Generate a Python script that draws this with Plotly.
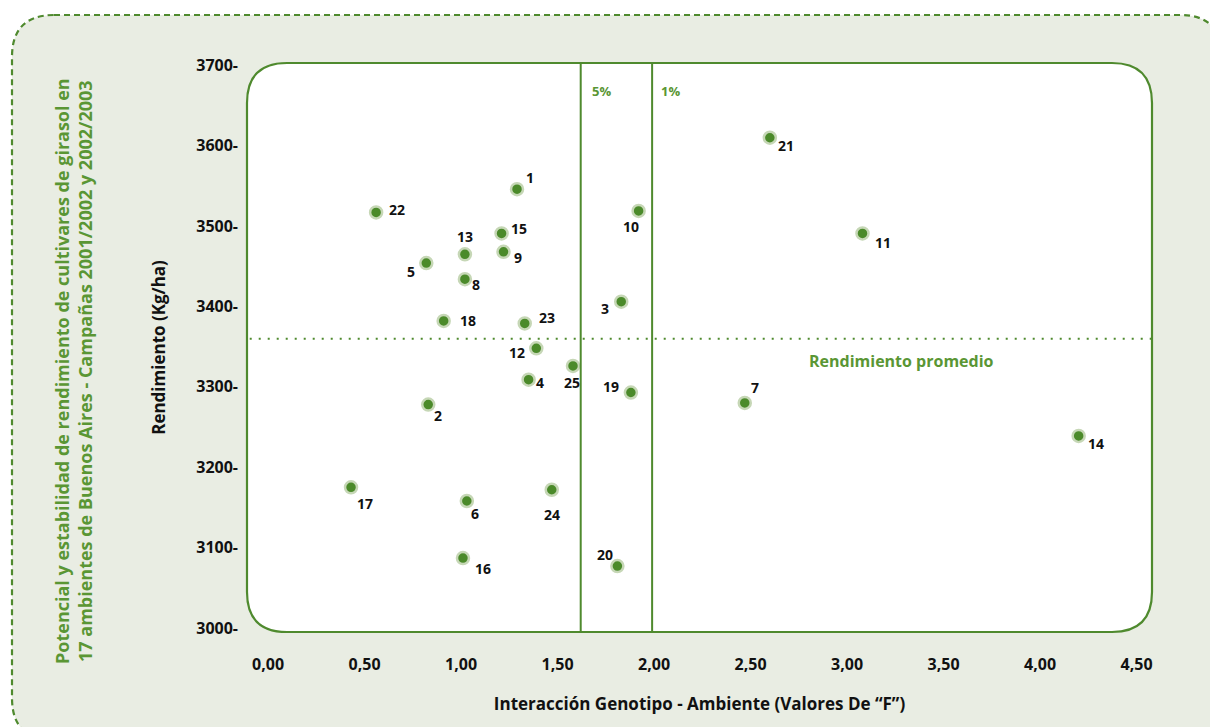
import plotly.graph_objects as go

# ---------------- data ----------------
genotipos = ["1", "2", "3", "4", "5", "6", "7", "8", "9", "10", "11", "12", "13",
             "14", "15", "16", "17", "18", "19", "20", "21", "22", "23", "24", "25"]
interaccion_F = [1.29, 0.83, 1.83, 1.35, 0.82, 1.03, 2.47, 1.02, 1.22, 1.92, 3.08, 1.39, 1.02,
                 4.20, 1.21, 1.01, 0.43, 0.91, 1.88, 1.81, 2.60, 0.56, 1.33, 1.47, 1.58]
rendimiento = [3546, 3278, 3406, 3309, 3454, 3158, 3280, 3434, 3468, 3519, 3491, 3348, 3465,
               3239, 3491, 3087, 3175, 3382, 3293, 3077, 3610, 3517, 3379, 3172, 3326]
rendimiento_promedio = 3360
f_5pct = 1.62
f_1pct = 1.99
x_ticks = [0, 0.5, 1.0, 1.5, 2.0, 2.5, 3.0, 3.5, 4.0, 4.5]
x_ticklabels = ["0,00", "0,50", "1,00", "1,50", "2,00", "2,50", "3,00", "3,50", "4,00", "4,50"]
y_ticks = [3000, 3100, 3200, 3300, 3400, 3500, 3600, 3700]
y_ticklabels = ["3000-", "3100-", "3200-", "3300-", "3400-", "3500-", "3600-", "3700-"]

# ---------------- style ----------------
W, H = 1210, 727
# plot box in page pixels: x 247..1152, y 63..632
ML, MT = 247, 63
MR, MB = W - 1152, H - 632
PW, PH = W - ML - MR, H - MT - MB
GREEN = "#4f8a2e"
TGREEN = "#5a9634"
BG = "#e9ede3"
FONT = "Open Sans"

# label offsets in pixels (dx right, dy down)
label_offsets = {
    "1": (13, -12), "22": (21, -3), "15": (17, -5), "13": (0, -18), "9": (14, 6),
    "5": (-15, 8), "8": (11, 5), "18": (24, 0), "23": (22, -6), "10": (-8, 16),
    "3": (-16, 7), "12": (-19, 4), "25": (-1, 17), "4": (11, 3), "19": (-20, -6),
    "2": (10, 11), "17": (14, 16), "6": (8, 12), "24": (0, 25), "16": (20, 10),
    "20": (-12, -12), "21": (16, 8), "11": (21, 9), "7": (10, -15), "14": (17, 8),
}


def px2paper(px, py):
    return (px - ML) / PW, (H - MB - py) / PH


def rounded_rect_path(x0, y0, x1, y1, r):
    def P(px, py):
        a, b = px2paper(px, py)
        return f"{a:.5f},{b:.5f}"
    return (
        f"M {P(x0 + r, y0)} L {P(x1 - r, y0)} Q {P(x1, y0)} {P(x1, y0 + r)} "
        f"L {P(x1, y1 - r)} Q {P(x1, y1)} {P(x1 - r, y1)} "
        f"L {P(x0 + r, y1)} Q {P(x0, y1)} {P(x0, y1 - r)} "
        f"L {P(x0, y0 + r)} Q {P(x0, y0)} {P(x0 + r, y0)} Z"
    )


fig = go.Figure()

fig.add_trace(go.Scatter(
    x=interaccion_F, y=rendimiento, mode="markers",
    marker=dict(size=12, color="#4b8a2a", line=dict(color="#c6d7b6", width=2.5)),
    hoverinfo="text", text=genotipos, showlegend=False,
))

shapes = [
    dict(type="path", xref="paper", yref="paper", layer="below",
         path=rounded_rect_path(12, 15, 1222, 740, 42),
         fillcolor=BG, line=dict(color=GREEN, width=2.2, dash="6px,4px")),
    dict(type="path", xref="paper", yref="paper", layer="below",
         path=rounded_rect_path(247, 63, 1152, 632, 40),
         fillcolor="white", line=dict(color=GREEN, width=2.2)),
    dict(type="line", xref="x", yref="paper", x0=f_5pct, x1=f_5pct, y0=0, y1=1,
         line=dict(color=GREEN, width=2)),
    dict(type="line", xref="x", yref="paper", x0=f_1pct, x1=f_1pct, y0=0, y1=1,
         line=dict(color=GREEN, width=2)),
    dict(type="line", xref="paper", yref="y", x0=0.003, x1=1, y0=rendimiento_promedio,
         y1=rendimiento_promedio, line=dict(color=GREEN, width=2, dash="2px,7px")),
]

annotations = []
for g, xv, yv in zip(genotipos, interaccion_F, rendimiento):
    dx, dy = label_offsets[g]
    annotations.append(dict(x=xv, y=yv, xref="x", yref="y", text=g, showarrow=False,
                            xshift=dx, yshift=-dy,
                            font=dict(family=FONT, size=14, color="#111111", weight="bold")))

annotations += [
    dict(x=f_5pct, y=1, xref="x", yref="paper", text="5%", showarrow=False,
         xshift=21, yshift=-17, font=dict(family=FONT, size=13, color=TGREEN, weight="bold")),
    dict(x=f_1pct, y=1, xref="x", yref="paper", text="1%", showarrow=False,
         xshift=18, yshift=-17, font=dict(family=FONT, size=13, color=TGREEN, weight="bold")),
    dict(x=3.28, y=rendimiento_promedio, xref="x", yref="y", text="Rendimiento promedio",
         showarrow=False, yshift=-22,
         font=dict(family=FONT, size=16, color=TGREEN, weight="bold")),
]
lx, ly = px2paper(73, 371)
annotations.append(dict(
    x=lx, y=ly, xref="paper", yref="paper", xanchor="center", yanchor="middle",
    textangle=-90, showarrow=False, align="center",
    text="Potencial y estabilidad de rendimiento de cultivares de girasol en<br>"
         "17 ambientes de Buenos Aires - Campañas 2001/2002 y 2002/2003",
    font=dict(family=FONT, size=18, color=TGREEN, weight="bold"),
))

fig.update_layout(
    width=W, height=H, autosize=False,
    margin=dict(l=ML, r=MR, t=MT, b=MB, pad=0),
    paper_bgcolor="white", plot_bgcolor="rgba(0,0,0,0)",
    shapes=shapes, annotations=annotations,
    font=dict(family=FONT, color="#111111"),
    xaxis=dict(range=[-0.109, 4.580], tickvals=x_ticks, ticktext=x_ticklabels,
               showgrid=False, zeroline=False, showline=False, ticks="",
               ticklabelstandoff=21,
               tickfont=dict(family=FONT, size=16, color="#111111", weight="bold"),
               title=dict(text="Interacción Genotipo - Ambiente (Valores De “F”)", standoff=24,
                          font=dict(family=FONT, size=17, color="#111111", weight="bold"))),
    yaxis=dict(range=[2995, 3703], tickvals=y_ticks, ticktext=y_ticklabels,
               showgrid=False, zeroline=False, showline=False, ticks="",
               ticklabelstandoff=8,
               tickfont=dict(family=FONT, size=16, color="#111111", weight="bold"),
               title=dict(text="Rendimiento (Kg/ha)", standoff=26,
                          font=dict(family=FONT, size=17, color="#111111", weight="bold"))),
)

fig.write_html(
    "out.html",
    config={"displayModeBar": False},
    post_script="document.body.style.margin='0';document.body.style.overflow='hidden';",
)
